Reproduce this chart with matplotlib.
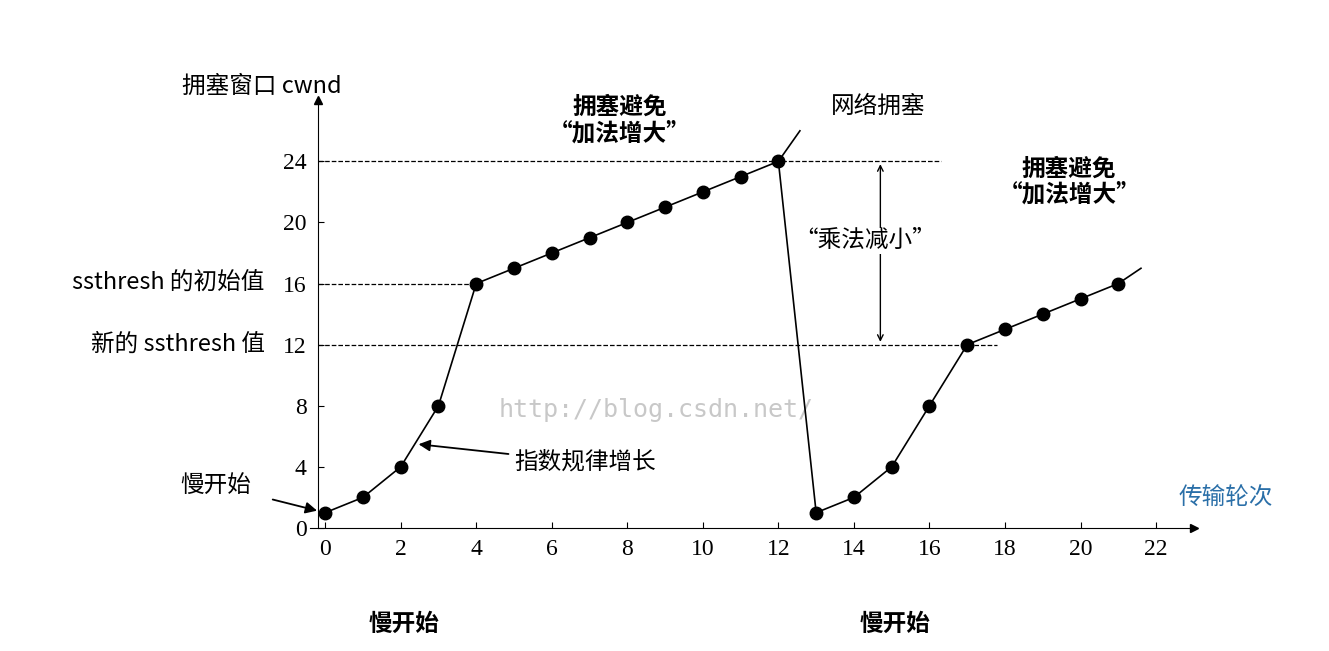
import matplotlib
matplotlib.use("Agg")
import matplotlib.pyplot as plt

plt.rcParams['font.family'] = ['Noto Sans CJK SC', 'DejaVu Sans']

x1 = list(range(0, 13))
y1 = [1, 2, 4, 8, 16, 17, 18, 19, 20, 21, 22, 23, 24]
x2 = list(range(13, 22))
y2 = [1, 2, 4, 8, 12, 13, 14, 15, 16]
xticks = list(range(0, 23, 2))
yticks = [0, 4, 8, 12, 16, 20, 24]

fig = plt.figure(figsize=(13.29, 6.51), dpi=100)
ax = fig.add_axes([0.2333, 0.189, 0.665, 0.657])
ax.set_xlim(-0.4, 23)
ax.set_ylim(0, 28)
for s in ['top', 'right']:
    ax.spines[s].set_visible(False)
ax.spines['left'].set_position(('data', -0.2))
ax.spines['bottom'].set_bounds(-0.4, 23)
ax.plot(23, 0, '>k', ms=6, clip_on=False)
ax.plot(-0.2, 28, '^k', ms=6, clip_on=False)

numfont = dict(family='Liberation Serif', size=17)
ax.set_xticks(xticks)
ax.set_xticklabels([str(t) for t in xticks], **numfont)
ax.set_yticks(yticks)
ax.set_yticklabels([str(t) for t in yticks], **numfont)
ax.tick_params(direction='in', length=4, pad=8)

# dashed guides
ax.plot([-0.2, 16.3], [24, 24], 'k--', lw=0.9)
ax.plot([-0.2, 4], [16, 16], 'k--', lw=0.9)
ax.plot([-0.2, 17.8], [12, 12], 'k--', lw=0.9)

ax.plot(x1, y1, '-ko', lw=1.2, ms=9, clip_on=False)
ax.plot([x1[-1], x2[0]], [y1[-1], y2[0]], '-k', lw=1.2)
ax.plot(x2, y2, '-ko', lw=1.2, ms=9, clip_on=False)
ax.plot([12, 12.57], [24, 26], '-k', lw=1.2)
ax.plot([21, 21.6], [16, 17], '-k', lw=1.2)

ax.annotate('', xy=(14.7, 24), xytext=(14.7, 12),
            arrowprops=dict(arrowstyle='<->', lw=1, color='k'))
ax.text(14.3, 18.8, '“乘法减小”', ha='center', va='center', fontsize=17,
        bbox=dict(facecolor='white', edgecolor='none', pad=1))

ax.text(13.4, 27.6, '网络拥塞', ha='left', va='center', fontsize=17)
ax.text(-3.8, 28.9, '拥塞窗口 cwnd', ha='left', va='center', fontsize=17, clip_on=False)
ax.text(22.6, 2.0, '传输轮次', ha='left', va='center', fontsize=17, color='#2a6fa8', clip_on=False)
ax.text(-1.6, 16, 'ssthresh 的初始值', ha='right', va='center', fontsize=17, clip_on=False)
ax.text(-1.6, 12, '新的 ssthresh 值', ha='right', va='center', fontsize=17, clip_on=False)

ax.annotate('慢开始', xy=(0, 1), xytext=(-2.9, 2.8), fontsize=17, ha='center', va='center',
            annotation_clip=False,
            arrowprops=dict(arrowstyle='-|>', lw=1.3, color='k', shrinkA=14, shrinkB=6))
ax.annotate('指数规律增长', xy=(2.4, 5.5), xytext=(5.0, 4.3), fontsize=17, ha='left', va='center',
            arrowprops=dict(arrowstyle='-|>', lw=1.3, color='k'))

ax.text(7.8, 26.7, '拥塞避免\n“加法增大”', ha='center', va='center', fontsize=17,
        fontweight='bold', linespacing=1.1, clip_on=False)
ax.text(19.7, 22.7, '拥塞避免\n“加法增大”', ha='center', va='center', fontsize=17,
        fontweight='bold', linespacing=1.1)
ax.text(2.1, -6.3, '慢开始', ha='center', va='center', fontsize=17, fontweight='bold', clip_on=False)
ax.text(15.1, -6.3, '慢开始', ha='center', va='center', fontsize=17, fontweight='bold', clip_on=False)
ax.text(4.6, 7.7, 'http://blog.csdn.net/', ha='left', va='center', fontsize=18,
        color='#c8c8c8', family='DejaVu Sans Mono', zorder=0)

fig.savefig('out.png', dpi=100, facecolor='white')
